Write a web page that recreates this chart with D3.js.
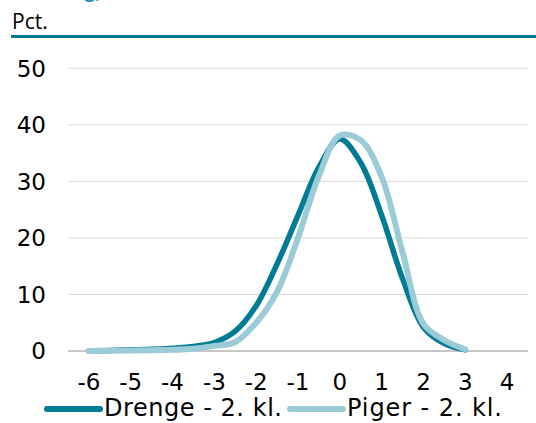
<!DOCTYPE html>
<html><head><meta charset="utf-8">
<script src="https://cdn.jsdelivr.net/npm/d3@7"></script>
<style>body{margin:0;background:#fff;} svg{display:block;}</style>
</head><body>
<svg id="c" width="536" height="423"></svg>
<script>
const xs      = [-6,-5.5,-5,-4.5,-4,-3.5,-3,-2.5,-2,-1.5,-1,-0.5,0,0.5,1,1.5,2,2.5,3];
const drenge  = [0,0.1,0.2,0.3,0.5,0.8,1.5,3.5,8.0,15.4,24.0,32.5,37.5,33.3,24.0,12.8,4.2,1.3,0.2];
const piger   = [0,0.05,0.1,0.15,0.2,0.4,0.9,1.6,5.0,10.5,20.0,31.0,38.1,37.3,30.8,17.5,4.8,1.9,0.3];
const xTicks  = [-6,-5,-4,-3,-2,-1,0,1,2,3,4];
const yTicks  = [0,10,20,30,40,50];
const seriesNames = ["Drenge - 2. kl.","Piger - 2. kl."];
const colors  = ["#007b94","#9ccbd8"];

const svg = d3.select("#c");
const x = d3.scaleLinear().domain([-6.5,4.5]).range([68,528]);
const y = d3.scaleLinear().domain([0,50]).range([351,68.3]);

// partial title (cut off at top in the reference)
svg.append("text").attr("x",101).attr("y",-2).attr("text-anchor","end")
  .attr("font-family","Open Sans").attr("font-weight","bold").attr("font-size",18)
  .attr("fill","#1c8fc0").text("fordeling)");

svg.append("text").attr("x",12).attr("y",29).attr("font-family","Open Sans")
  .attr("font-size",21).attr("fill","#000").text("Pct.");
svg.append("rect").attr("x",11).attr("y",35).attr("width",525).attr("height",3).attr("fill","#007b94");

// grid
svg.append("g").selectAll("line").data(yTicks.filter(d=>d>0)).join("line")
  .attr("x1",x.range()[0]).attr("x2",x.range()[1])
  .attr("y1",d=>y(d)).attr("y2",d=>y(d))
  .attr("stroke","#d9d9d9").attr("stroke-width",1);
svg.append("line").attr("x1",x.range()[0]).attr("x2",x.range()[1])
  .attr("y1",y(0)).attr("y2",y(0)).attr("stroke","#8c8c8c").attr("stroke-width",1);

const font = "DejaVu Sans, Verdana, sans-serif";
svg.append("g").selectAll("text").data(yTicks).join("text")
  .attr("x",46).attr("y",d=>y(d)).attr("dy","0.36em").attr("text-anchor","end")
  .attr("font-family",font).attr("font-size",23).attr("fill","#000").text(d=>d);
svg.append("g").selectAll("text").data(xTicks).join("text")
  .attr("x",d=>x(d)).attr("y",390).attr("text-anchor","middle")
  .attr("font-family",font).attr("font-size",23).attr("fill","#000").text(d=>d);

const line = d3.line().x((d,i)=>x(xs[i])).y(d=>y(Math.max(0,d))).curve(d3.curveCatmullRom.alpha(0.5));
[drenge,piger].forEach((s,k)=>{
  svg.append("path").attr("d",line(s)).attr("fill","none")
    .attr("stroke",colors[k]).attr("stroke-width",k===0?5.5:6)
    .attr("stroke-linecap","round").attr("stroke-linejoin","round");
});

// legend
const leg = [{x1:47,x2:100,tx:104,w:178},{x1:290,x2:343,tx:347,w:155}];
leg.forEach((l,k)=>{
  svg.append("line").attr("x1",l.x1).attr("x2",l.x2).attr("y1",409).attr("y2",409)
    .attr("stroke",colors[k]).attr("stroke-width",6).attr("stroke-linecap","round");
  svg.append("text").attr("x",l.tx).attr("y",416).attr("font-family",font)
    .attr("font-size",24).attr("textLength",l.w).attr("lengthAdjust","spacing")
    .attr("fill","#000").text(seriesNames[k]);
});
</script>
</body></html>
